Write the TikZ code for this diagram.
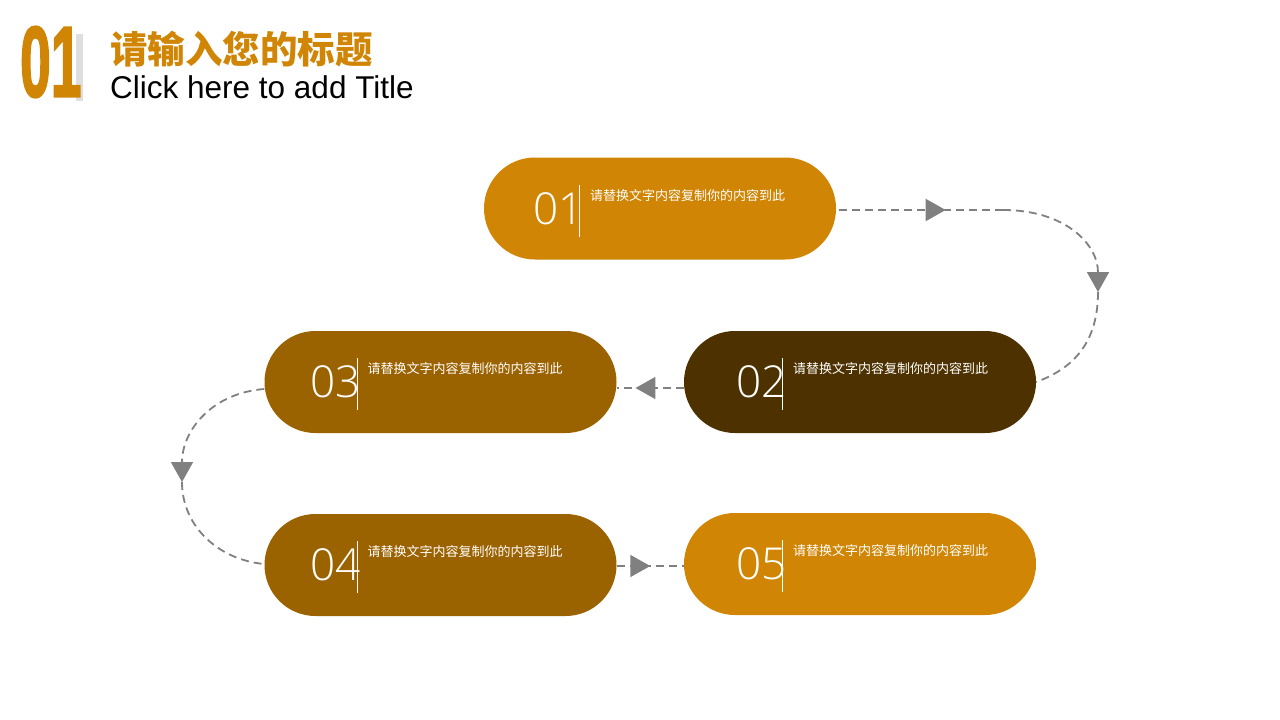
\documentclass[tikz,border=0pt]{standalone}
\usepackage{fontspec}
\setmainfont{Liberation Sans}
\newfontfamily\cjk{Noto Sans CJK SC}
\newfontfamily\thinfont{Open Sans Light}
\newfontfamily\logofont{Liberation Sans Bold}[FakeBold=2.5]
\usepackage{tikz}
\usetikzlibrary{arrows.meta,decorations.markings,positioning}
\definecolor{gold}{HTML}{D08504}
\definecolor{umber}{HTML}{4D3200}
\definecolor{bronze}{HTML}{9B6200}
\definecolor{dashgray}{HTML}{808080}

\begin{document}
\begin{tikzpicture}[x=1pt,y=-1pt,
    pill/.style={rectangle,rounded corners=50.9pt,minimum width=352pt,minimum height=102pt,inner sep=0pt},
    num/.style={anchor=west,inner sep=0pt,text=white,font=\thinfont\fontsize{44}{44}\selectfont},
    note/.style={anchor=west,inner sep=0pt,text=white,font=\cjk\fontsize{13}{13}\selectfont},
    flow/.style={draw=dashgray,line width=1.8pt,dash pattern=on 8pt off 5pt},
    tipat/.style={postaction={decorate,decoration={markings,mark=at position #1 with {\arrow{Triangle[length=20pt,width=22pt]}}}}},
    tipend/.style={-{Triangle[length=20pt,width=22pt]}}]
      \useasboundingbox (0,0) rectangle (1280,720);

      \fill[gray!25] (76,34) rectangle (83,101);
      \node[inner sep=0pt,anchor=west,text=gold,font=\logofont\fontsize{100}{100}\selectfont] (logo) at (20,62)
        {\scalebox{0.55}[1]{01}};
      \node[inner sep=0pt,anchor=west,text=gold,font=\cjk\bfseries\fontsize{37.5}{38}\selectfont] (title) at (110,49) {请输入您的标题};
      \node[inner sep=0pt,anchor=west,font=\fontsize{31.5}{32}\selectfont] (subtitle) at (110,87) {Click here to add Title};

      \coordinate (k1) at (1003,210);
      \coordinate (c1) at (1098,292);
      \coordinate (c2) at (182,482);

      \node[pill,fill=gold] (p1) at (660,208.5) {};
      \node[pill,fill=umber] (p2) at (860,382) {};
      \node[pill,fill=bronze] (p3) at (440.5,382) {};
      \node[pill,fill=bronze] (p4) at (440.5,565) {};
      \node[pill,fill=gold] (p5) at (860,564) {};

      \foreach \i/\dx in {1/96,2/99,3/93,4/93,5/99} {
        \node[num] (n\i) at ([xshift=\dx pt-47pt]p\i.west) {0\i};
        \draw[white,line width=1pt] ([xshift=\dx pt,yshift=24pt]p\i.west) -- ([xshift=\dx pt,yshift=-28pt]p\i.west);
        \node[note] (t\i) at ([xshift=\dx pt+10pt,yshift=13pt]p\i.west) {请替换文字内容复制你的内容到此};
      }

      \draw[flow,tipat=0.65] ([xshift=3pt,yshift=-1.5pt]p1.east) -- (k1);
      \draw[flow,tipend] (k1) .. controls +(62,0) and +(0,-48) .. (c1);
      \draw[flow] (c1) .. controls +(0,50) and +(38,-14) .. (p2.east);
      \draw[flow,tipat=0.72] ([yshift=-6pt]p2.west) -- ([yshift=-6pt]p3.east);
      \draw[flow,tipend] ([yshift=-7pt]p3.west) .. controls +(-52,4) and +(0,-52) .. (c2);
      \draw[flow] (c2) .. controls +(0,45) and +(-45,-4) .. ([yshift=1pt]p4.west);
      \draw[flow,tipat=0.5] ([yshift=-1pt]p4.east) -- ([yshift=-2pt]p5.west);
    \end{tikzpicture}
\end{document}
